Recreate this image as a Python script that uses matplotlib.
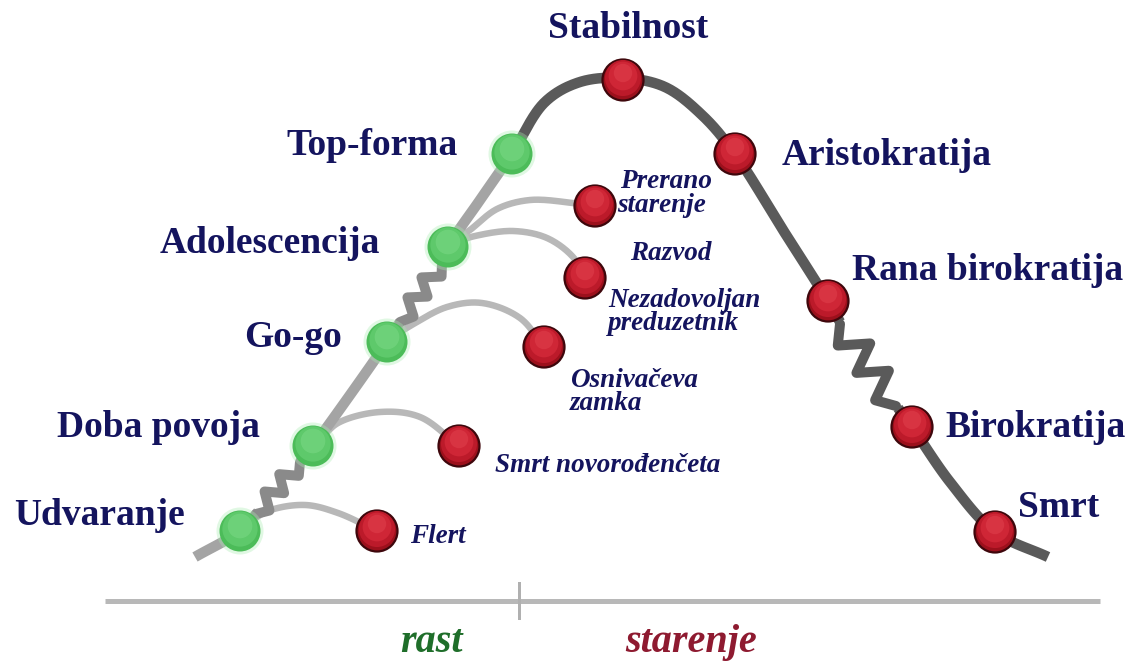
import numpy as np
import matplotlib
matplotlib.use("Agg")
import matplotlib.pyplot as plt
from matplotlib.patches import Circle

# ---------------- data (pixel coordinates of the diagram) ----------------
growth_stages = ["Udvaranje", "Doba povoja", "Go-go", "Adolescencija", "Top-forma"]
growth_x = [240, 313, 387, 448, 512]
growth_y = [531, 446, 342, 247, 154]

aging_stages = ["Stabilnost", "Aristokratija", "Rana birokratija", "Birokratija", "Smrt"]
aging_x = [623, 735, 828, 912, 995]
aging_y = [80, 154, 301, 427, 532]

trap_labels = ["Flert", "Smrt novorođenčeta", "Osnivačeva\nzamka",
               "Razvod\n\nNezadovoljan\npreduzetnik", "Prerano\nstarenje"]
trap_x = [377, 459, 544, 585, 595]
trap_y = [531, 446, 347, 278, 206]

# main curve path pieces (light growth part, dark aging part)
curve_low1_x = [195, 240, 258]
curve_low1_y = [557, 531, 512]
curve_low2_x = [300, 313, 350, 387, 400]
curve_low2_y = [462, 446, 395, 342, 322]
curve_low3_x = [442, 448, 480, 512]
curve_low3_y = [262, 247, 200, 154]
curve_high1_x = [512, 545, 580, 623, 665, 703, 735, 783, 828, 840]
curve_high1_y = [154, 102, 82, 78, 87, 116, 154, 230, 301, 322]
curve_high2_x = [898, 912, 950, 995, 1048]
curve_high2_y = [408, 427, 482, 532, 557]

# squiggles (start, end, teeth)
squig_x0 = [256, 400, 840]
squig_y0 = [514, 322, 324]
squig_x1 = [300, 442, 896]
squig_y1 = [462, 262, 406]
squig_teeth = [3, 3, 3]

# branch curves from growth stages to traps
branch_x = [
    [246, 268, 305, 338, 377],
    [320, 338, 380, 420, 459],
    [395, 410, 447, 482, 520, 544],
    [456, 475, 513, 547, 573, 585],
    [456, 470, 497, 530, 573, 595],
]
branch_y = [
    [525, 511, 505, 513, 531],
    [440, 423, 412, 417, 446],
    [335, 326, 307, 303, 318, 347],
    [242, 236, 231, 238, 257, 278],
    [240, 230, 209, 200, 203, 206],
]

axis_x = [105, 1100]
axis_y = 601
divider_x = 519
phase_labels = ["rast", "starenje"]
phase_x = [400, 625]
phase_colors = ["#1f6e2a", "#8e1a30"]

NAVY = "#14145e"
SERIF = ["Liberation Serif", "DejaVu Serif"]


def catmull(xs, ys, n=30, alpha=0.5):
    """Centripetal Catmull-Rom through the given points."""
    p = np.column_stack([xs, ys]).astype(float)
    p = np.vstack([2 * p[0] - p[1], p, 2 * p[-1] - p[-2]])
    out = []
    for i in range(1, len(p) - 2):
        P0, P1, P2, P3 = p[i - 1], p[i], p[i + 1], p[i + 2]
        t0 = 0.0
        t1 = t0 + np.linalg.norm(P1 - P0) ** alpha
        t2 = t1 + np.linalg.norm(P2 - P1) ** alpha
        t3 = t2 + np.linalg.norm(P3 - P2) ** alpha
        t = np.linspace(t1, t2, n, endpoint=False)[:, None]
        A1 = (t1 - t) / (t1 - t0) * P0 + (t - t0) / (t1 - t0) * P1
        A2 = (t2 - t) / (t2 - t1) * P1 + (t - t1) / (t2 - t1) * P2
        A3 = (t3 - t) / (t3 - t2) * P2 + (t - t2) / (t3 - t2) * P3
        B1 = (t2 - t) / (t2 - t0) * A1 + (t - t0) / (t2 - t0) * A2
        B2 = (t3 - t) / (t3 - t1) * A2 + (t - t1) / (t3 - t1) * A3
        C = (t2 - t) / (t2 - t1) * B1 + (t - t1) / (t2 - t1) * B2
        out.append(C)
    out.append(p[-2][None, :])
    a = np.vstack(out)
    return a[:, 0], a[:, 1]


def zigzag(x0, y0, x1, y1, teeth, amp):
    d = np.array([x1 - x0, y1 - y0], float)
    L = np.hypot(*d)
    u = d / L
    nrm = np.array([-u[1], u[0]])
    k = np.arange(2 * teeth + 1)
    t = k / (2 * teeth)
    off = np.where(k % 2 == 1, 1.0, -1.0) * amp
    off[0] = 0
    off[-1] = 0
    pts = np.array([x0, y0]) + np.outer(t * L, u) + np.outer(off, nrm)
    return pts[:, 0], pts[:, 1]


fig = plt.figure(figsize=(11.32, 6.62), dpi=100)
ax = fig.add_axes([0, 0, 1, 1])
ax.set_xlim(0, 1132)
ax.set_ylim(662, 0)
ax.axis("off")

PX = 0.72  # points per pixel

# branches
for bx, by in zip(branch_x, branch_y):
    cx, cy = catmull(bx, by)
    ax.plot(cx, cy, color="#b8b8b8", lw=6.5 * PX, solid_capstyle="round", zorder=1)

# main curve
light = "#a4a4a4"
dark = "#5a5a5a"
for xs, ys, col in [(curve_low1_x, curve_low1_y, light), (curve_low2_x, curve_low2_y, light),
                    (curve_low3_x, curve_low3_y, light), (curve_high1_x, curve_high1_y, dark),
                    (curve_high2_x, curve_high2_y, dark)]:
    cx, cy = catmull(xs, ys)
    ax.plot(cx, cy, color=col, lw=10.5 * PX, solid_capstyle="butt", zorder=2)

for i in range(3):
    zx, zy = zigzag(squig_x0[i], squig_y0[i], squig_x1[i], squig_y1[i], squig_teeth[i],
                    8 if i < 2 else 14)
    col = "#8a8a8a" if i < 2 else dark
    ax.plot(zx, zy, color=col, lw=10 * PX, solid_joinstyle="round",
            solid_capstyle="round", zorder=2)

R = 20.5


def red_dot(x, y):
    ax.add_patch(Circle((x, y), R, facecolor="#9c101c", edgecolor="#3e070c", lw=1.6, zorder=5))
    ax.add_patch(Circle((x, y - 2), R * 0.88, facecolor="#bc1a2a", edgecolor="none", zorder=5))
    ax.add_patch(Circle((x, y - 4), R * 0.7, facecolor="#cf2636", edgecolor="none", zorder=5))
    ax.add_patch(Circle((x, y - 7), R * 0.45, facecolor="#dc3a48", edgecolor="none",
                        alpha=0.7, zorder=5))


def green_dot(x, y):
    ax.add_patch(Circle((x, y), R + 3, facecolor="#a8ecb0", edgecolor="none", alpha=0.35, zorder=4))
    ax.add_patch(Circle((x, y), R, facecolor="#4cbc59", edgecolor="none", zorder=5))
    ax.add_patch(Circle((x, y - 2), R * 0.86, facecolor="#5ec96b", edgecolor="none", zorder=5))
    ax.add_patch(Circle((x, y - 5), R * 0.6, facecolor="#72d47d", edgecolor="none",
                        alpha=0.8, zorder=5))


for x, y in zip(growth_x, growth_y):
    green_dot(x, y)
for x, y in zip(aging_x, aging_y):
    red_dot(x, y)
for x, y in zip(trap_x, trap_y):
    red_dot(x, y)

big = dict(fontsize=27, fontweight="bold", color=NAVY, family=SERIF, zorder=6)
# growth labels: right aligned, left of dots
g_tx = [185, 260, 342, 380, 458]
g_ty = [525, 437, 347, 253, 155]
for s, x, y in zip(growth_stages, g_tx, g_ty):
    ax.text(x, y, s, ha="right", va="baseline", **big)
a_tx = [628, 782, 852, 945, 1018]
a_ty = [38, 165, 280, 437, 517]
a_ha = ["center", "left", "left", "left", "left"]
for s, x, y, h in zip(aging_stages, a_tx, a_ty, a_ha):
    ax.text(x, y, s, ha=h, va="baseline", **big)

small = dict(fontsize=19.5, fontweight="bold", style="italic", color=NAVY, family=SERIF, zorder=6)
t_tx = [410, 495, 570, 608, 620]
t_ty = [543, 472, 387, 260, 188]
for i, (s, x, y) in enumerate(zip(trap_labels, t_tx, t_ty)):
    lines = s.split("\n")
    for j, ln in enumerate(lines):
        if not ln:
            continue
        xx = x
        if i == 3 and j == 0:
            xx = 630
        if i == 4 and j == 1:
            xx = 617
        yy = y + j * 23.5
        if i == 3 and j >= 2:
            yy = 307 + (j - 2) * 23.5
        ax.text(xx, yy, ln, ha="left", va="baseline", **small)

# bottom axis
ax.plot(axis_x, [axis_y, axis_y], color="#b8b8b8", lw=5 * PX, solid_capstyle="butt", zorder=1)
ax.plot([divider_x, divider_x], [583, 618], color="#b0b0b0", lw=3 * PX, zorder=1)
for s, x, c in zip(phase_labels, phase_x, phase_colors):
    ax.text(x, 652, s, ha="left", va="baseline", fontsize=29, fontweight="bold", style="italic",
            color=c, family=SERIF)

fig.savefig("out.png", dpi=100, facecolor="white")
